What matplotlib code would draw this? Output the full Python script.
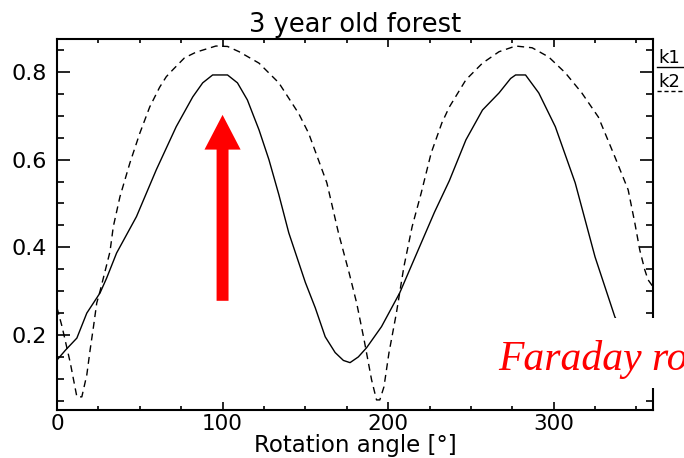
import matplotlib
matplotlib.use("Agg")
from matplotlib import pyplot as plt
from matplotlib.lines import Line2D
from matplotlib.patches import Rectangle
from matplotlib.ticker import MultipleLocator

# k1 (solid)
k1_angle = [0, 5, 12, 18, 26, 30, 36, 48, 60, 72, 82, 88, 94, 103, 109, 115,
            119, 122, 128, 134, 140, 150, 156, 162, 168, 173, 177, 182, 187,
            196, 207, 220, 228, 237, 247, 257, 267, 274, 277, 283, 291, 301,
            313, 325, 337, 345, 352, 360]
k1_value = [0.143, 0.165, 0.193, 0.25, 0.296, 0.33, 0.387, 0.47, 0.577, 0.675,
            0.743, 0.775, 0.793, 0.793, 0.775, 0.736, 0.697, 0.668, 0.60, 0.52,
            0.433, 0.32, 0.262, 0.196, 0.16, 0.142, 0.137, 0.15, 0.171, 0.219,
            0.296, 0.41, 0.48, 0.552, 0.645, 0.713, 0.752, 0.785, 0.793, 0.793,
            0.752, 0.675, 0.547, 0.378, 0.241, 0.19, 0.16, 0.145]

# k2 (dashed)
k2_angle = [0, 3, 8, 12, 15, 18, 20, 22, 24, 26, 28, 32, 34, 38, 44, 50, 56,
            62, 66, 70, 77, 84, 96, 103, 110, 122, 134, 140, 146, 152, 163,
            170, 176.5, 181, 185.5, 190, 193, 195, 197.5, 200.5, 205, 209.5,
            214.5, 220, 226, 232.5, 237, 247, 257, 267, 277, 287, 297, 307,
            317, 327, 337, 345, 349, 352, 355, 357, 360]
k2_value = [0.262, 0.22, 0.137, 0.059, 0.059, 0.109, 0.166, 0.218, 0.273, 0.30,
            0.33, 0.39, 0.447, 0.515, 0.592, 0.66, 0.72, 0.765, 0.789, 0.805,
            0.832, 0.845, 0.859, 0.858, 0.846, 0.82, 0.775, 0.74, 0.705, 0.66,
            0.547, 0.433, 0.341, 0.273, 0.189, 0.098, 0.052, 0.052, 0.082,
            0.159, 0.25, 0.355, 0.447, 0.524, 0.615, 0.684, 0.72, 0.782, 0.82,
            0.846, 0.859, 0.855, 0.834, 0.798, 0.752, 0.697, 0.606, 0.531,
            0.456, 0.394, 0.349, 0.326, 0.31]

x_ticks = [0, 100, 200, 300]
y_ticks = [0.2, 0.4, 0.6, 0.8]
title = "3 year old forest"
x_label = "Rotation angle [°]"
legend_labels = ["k1", "k2"]
note = "Faraday rotation"

W, H = 684, 458
fig = plt.figure(figsize=(W / 100, H / 100), dpi=100)
ax = fig.add_axes([57 / W, 48 / H, 596 / W, 371 / H])

ax.plot(k1_angle, k1_value, color="black", lw=1.0)
ax.plot(k2_angle, k2_value, color="black", lw=1.0, linestyle=(0, (5, 3.5)))

ax.set_xlim(0, 360)
ax.set_ylim(0.029, 0.875)
ax.set_xticks(x_ticks)
ax.set_yticks(y_ticks)
ax.set_yticklabels([f"{v:.1f}" for v in y_ticks])
ax.xaxis.set_minor_locator(MultipleLocator(25))
ax.yaxis.set_minor_locator(MultipleLocator(0.05))

for s in ax.spines.values():
    s.set_linewidth(1.5)
ax.tick_params(which="both", direction="in", top=True, right=True,
               labelsize=16, width=1.2)
ax.tick_params(axis="x", which="major", length=6, pad=3, labelsize=15.5)
ax.tick_params(axis="x", which="minor", length=3)
ax.tick_params(axis="y", which="major", length=9.5, pad=7)
ax.tick_params(axis="y", which="minor", length=5)

ax.set_title(title, fontsize=18.5, pad=5)
ax.set_xlabel(x_label, fontsize=16.5, labelpad=0)

# red arrow pointing at the first peak
ax.annotate("", xy=(100, 0.702), xytext=(100, 0.278),
            arrowprops=dict(arrowstyle="simple,head_length=25,head_width=26,tail_width=8.6",
                            mutation_scale=1, color="red", lw=0,
                            shrinkA=0, shrinkB=0))

# legend outside the right edge
def fx(px):
    return px / W

def fy(py):
    return 1 - py / H

fig.text(fx(658), fy(63), legend_labels[0], fontsize=13, va="baseline")
fig.add_artist(Line2D([fx(657), fx(684)], [fy(67), fy(67)], color="black", lw=1.0))
fig.text(fx(658), fy(87), legend_labels[1], fontsize=13, va="baseline")
fig.add_artist(Line2D([fx(657), fx(684)], [fy(91), fy(91)], color="black", lw=1.0,
                      linestyle=(0, (3, 2))))

# white label box covering the lower right corner, text runs off the edge
fig.add_artist(Rectangle((fx(478), fy(388)), (W - 478) / W, 70 / H,
                         transform=fig.transFigure, facecolor="white",
                         edgecolor="none", zorder=5))
fig.text(fx(498), fy(370), note, fontsize=30, color="red", style="italic",
         family="Liberation Serif", va="baseline", zorder=6)

fig.savefig("out.png", dpi=100)
